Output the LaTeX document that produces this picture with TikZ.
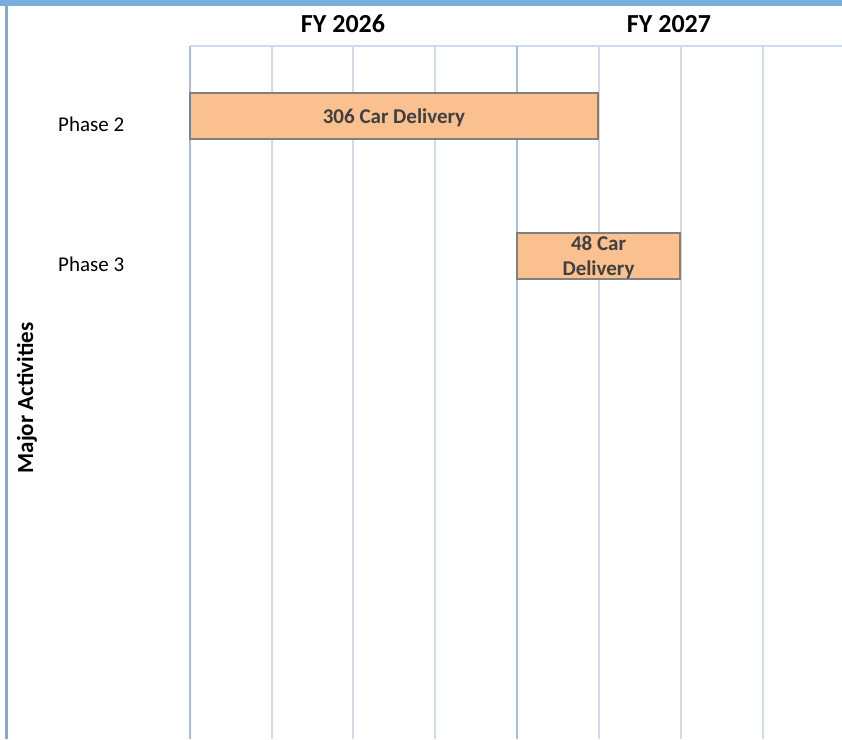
\documentclass[tikz,border=0pt]{standalone}
\usepackage{fontspec}
\setmainfont{Carlito}
\definecolor{frameblue}{HTML}{7AACDC}
\definecolor{gridlight}{HTML}{D0DCEE}
\definecolor{griddark}{HTML}{A8BEDC}
\definecolor{barfill}{HTML}{FAC090}
\definecolor{barline}{HTML}{808080}
\definecolor{bartext}{HTML}{404040}
\begin{document}
\begin{tikzpicture} [x=1pt, y=-1pt]
    \tikzstyle{every node} = [align=center, inner sep=0pt]
    \tikzstyle{year} = [font=\bfseries\fontsize{26}{30}\selectfont]
    \tikzstyle{phase} = [anchor=west, font=\fontsize{21}{25}\selectfont]
    \tikzstyle{axis} = [font=\bfseries\fontsize{23}{27}\selectfont, rotate=90]
    \tikzstyle{task} = [draw=barline, line width=2pt, fill=barfill, text=bartext, text depth=0pt, font=\bfseries\fontsize{21}{25}\selectfont]
    \tikzstyle{minor} = [draw=gridlight, line width=1.5pt]
    \tikzstyle{major} = [draw=griddark, line width=1.5pt]
    \useasboundingbox (0,0) rectangle (842,739);
    % quarter grid
    \draw[minor] (190,46) -- (842,46);
    \foreach \x in {272,353,435,599,681,763}
        \draw[minor] (\x,46) -- (\x,739);
    \draw[major] (190,46) -- (190,739);
    \draw[major] (517,46) -- (517,739);
    % frame
    \fill[frameblue] (0,0) rectangle (842,5.5);
    \fill[frameblue] (5,0) rectangle (8,739);
    % headings
    \node[year] (fy26) at (343,24) {FY 2026};
    \node[year] (fy27) at (669,24) {FY 2027};
    \node[phase] (ph2) at (58,124) {Phase 2};
    \node[phase] (ph3) at (58,264) {Phase 3};
    \node[axis] (acts) at (27,398) {Major Activities};
    % bars
    \node[task, minimum width=408, minimum height=46] (cars306) at (394,116) {306 Car Delivery};
    \node[task, minimum width=163, minimum height=46] (cars48) at (598.5,255.5) {48 Car\\Delivery};
\end{tikzpicture}
\end{document}
